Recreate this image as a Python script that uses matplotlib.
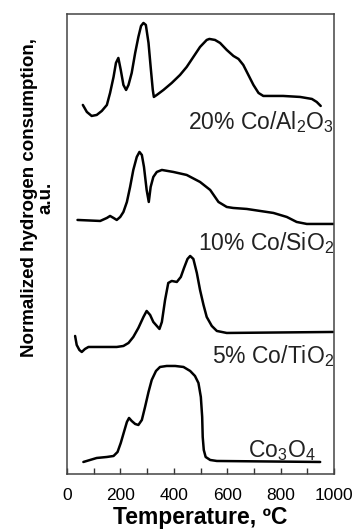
import numpy as np
import matplotlib.pyplot as plt
from matplotlib.ticker import MultipleLocator

plt.rcParams['font.family'] = ['Liberation Sans', 'DejaVu Sans']
plt.rcParams['mathtext.fontset'] = 'custom'
plt.rcParams['mathtext.rm'] = 'Liberation Sans'
plt.rcParams['mathtext.it'] = 'Liberation Sans'

# TPR profiles, temperature (C) vs. stacked signal (a.u.)
t_al = [59, 74, 92, 111, 130, 149, 161, 174, 183, 192, 201, 211, 221, 230, 242, 255, 267,
        277, 286, 295, 305, 313, 321, 325, 336, 361, 392, 423, 448, 473, 498, 523, 533,
        554, 573, 598, 623, 642, 660, 679, 698, 717, 735, 809, 873, 917, 935, 950]
y_al = [369, 362, 358, 359, 363, 369, 381, 397, 411, 416, 404, 389, 384, 389, 401, 421, 437,
        448, 451, 449, 431, 407, 384, 377, 379, 384, 391, 399, 407, 417, 427, 434, 435,
        434, 431, 424, 418, 415, 409, 399, 389, 381, 378, 378, 377, 375, 372, 368]

t_si = [39, 124, 149, 161, 174, 186, 199, 211, 224, 236, 248, 261, 271, 280, 288, 298, 306,
        313, 323, 336, 355, 398, 448, 498, 536, 567, 598, 622, 673, 723, 773, 823, 860,
        898, 998]
y_si = [254, 253, 256, 258, 256, 254, 257, 262, 272, 287, 304, 317, 322, 319, 307, 284, 272,
        287, 297, 302, 304, 302, 299, 292, 284, 272, 267, 266, 265, 263, 261, 257, 252,
        250, 250]

t_ti = [30, 36, 46, 55, 67, 80, 111, 149, 186, 211, 230, 248, 267, 286, 298, 311, 323,
        346, 355, 367, 379, 392, 411, 426, 438, 451, 461, 473, 486, 498, 511, 523, 542,
        561, 598, 996]
y_ti = [138, 129, 124, 122, 125, 127, 127, 127, 127, 128, 131, 137, 146, 157, 163, 159, 152,
        145, 152, 174, 191, 193, 192, 197, 206, 215, 218, 215, 201, 184, 169, 157, 148,
        143, 141, 142]

t_co = [61, 86, 111, 149, 174, 189, 201, 213, 224, 232, 242, 255, 267, 280, 292, 305, 317,
        333, 348, 373, 405, 436, 461, 479, 492, 501, 506, 508, 512, 519, 536, 561, 948]
y_co = [12, 14, 16, 17, 18, 22, 31, 42, 52, 56, 53, 50, 49, 54, 67, 82, 94,
        103, 107, 108, 108, 107, 103, 98, 91, 77, 57, 37, 24, 17, 14, 13, 12]

labels = ['20% Co/Al$_2$O$_3$', '10% Co/SiO$_2$', '5% Co/TiO$_2$', 'Co$_3$O$_4$']
label_x = [1000, 1000, 1000, 930]
label_y = [345, 224, 111, 17]

fig = plt.figure(figsize=(3.55, 5.3), dpi=100)
ax = fig.add_axes([0.189, 0.1057, 0.752, 0.868])

for t, y in [(t_al, y_al), (t_si, y_si), (t_ti, y_ti), (t_co, y_co)]:
    ax.plot(t, y, color='black', lw=1.8, solid_joinstyle='round', solid_capstyle='round')

for lab, lx, ly in zip(labels, label_x, label_y):
    ax.text(lx, ly, lab, ha='right', va='baseline', fontsize=16.5, color='#222222')

ax.set_xlim(0, 1000)
ax.set_ylim(0, 460)
ax.set_yticks([])
ax.xaxis.set_major_locator(MultipleLocator(200))
ax.xaxis.set_minor_locator(MultipleLocator(100))
ax.tick_params(axis='x', which='both', direction='in', length=4, width=1,
               labelsize=12.5, pad=10, color='#333333')
for s in ax.spines.values():
    s.set_linewidth(1.1)
    s.set_color('#444444')

ax.set_xlabel('Temperature, ºC', fontsize=16.5, fontweight='bold', labelpad=2)
fig.text(0.107, 1 - 198 / 530, 'Normalized hydrogen consumption,\na.u.',
         rotation=90, ha='center', va='center', fontsize=13.5, fontweight='bold',
         linespacing=0.95, multialignment='center')

plt.savefig('out.png', dpi=100)
